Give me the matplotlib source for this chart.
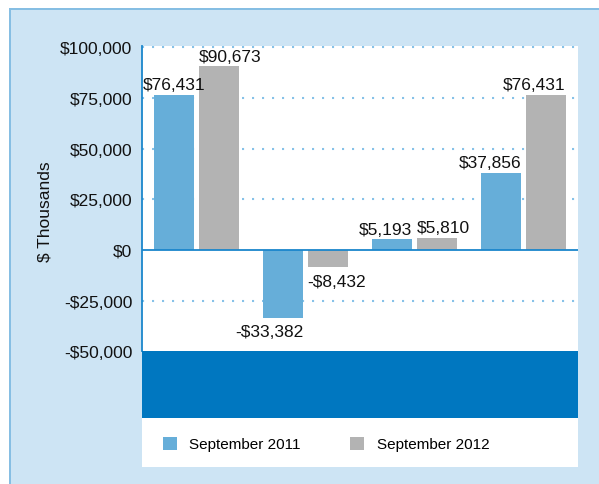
import numpy as np
import matplotlib
matplotlib.use("Agg")
import matplotlib.pyplot as plt
from matplotlib.patches import Rectangle
from matplotlib.ticker import FuncFormatter

plt.rcParams['font.family'] = ['Liberation Sans', 'DejaVu Sans']

series_names = ["September 2011", "September 2012"]
sep_2011 = [76431, -33382, 5193, 37856]
sep_2012 = [90673, -8432, 5810, 76431]
y_ticks = [-50000, -25000, 0, 25000, 50000, 75000, 100000]

# where each value label sits against its bar (the source nudges them apart)
ha_2011 = ["center", "right", "right", "right"]
ha_2012 = ["left", "left", "left", "right"]

BLUE = "#66aed9"
GRAY = "#b3b3b3"
DARK = "#0077c0"
FRAME = "#cde4f4"
EDGE = "#86bee3"
GRID = "#86c2e8"

W, H = 599, 485
fig = plt.figure(figsize=(W / 100, H / 100), dpi=100)
fig.patch.set_facecolor("white")


def px_rect(x0, y0, x1, y1, color):
    # rectangle in pixel coords measured from the top-left corner
    fig.patches.append(Rectangle((x0 / W, 1 - y1 / H), (x1 - x0) / W, (y1 - y0) / H,
                                 transform=fig.transFigure, color=color, zorder=-10, lw=0))


px_rect(9, 9, W, H, EDGE)
px_rect(11, 11, W, H, FRAME)
px_rect(142, 419, 578, 468, "white")

ax = fig.add_axes([142 / W, 1 - 419 / H, 436 / W, 372 / H])
ax.set_facecolor("white")

x = np.arange(len(sep_2011))
width = 0.367
gap = 0.037
b1 = ax.bar(x - (width + gap) / 2, sep_2011, width, color=BLUE, label=series_names[0], zorder=2)
b2 = ax.bar(x + (width + gap) / 2, sep_2012, width, color=GRAY, label=series_names[1], zorder=2)

ax.set_xlim(-0.5, len(x) - 0.5)
ax.set_ylim(-83000, 100700)
ax.axhspan(-83000, -50000, color=DARK, lw=0, zorder=3)

for t in y_ticks:
    if t not in (0, -50000):
        ax.axhline(t, color=GRID, lw=1.5, ls=(0, (1, 3.8)), zorder=1)
ax.axhline(0, color="#1a86cc", lw=1.3, zorder=4)

ax.set_yticks(y_ticks)
ax.yaxis.set_major_formatter(FuncFormatter(
    lambda v, p: ("-$" if v < 0 else "$") + f"{abs(int(v)):,}"))
ax.tick_params(axis='y', length=0, pad=7, labelsize=12.5, labelcolor="#111111")
ax.set_xticks([])
for s in ["top", "right", "bottom"]:
    ax.spines[s].set_visible(False)
ax.spines["left"].set_color("#1a86cc")
ax.spines["left"].set_linewidth(1.3)
ax.spines["left"].set_bounds(-50000, 100700)

ax.set_ylabel("$ Thousands", fontsize=12.5, color="#111111")
ax.yaxis.set_label_coords(-0.206, 0.556)


def money(v):
    return ("-$" if v < 0 else "$") + f"{abs(v):,}"


for bars, has in [(b1, ha_2011), (b2, ha_2012)]:
    for rect, ha in zip(bars, has):
        v = rect.get_height()
        xl = rect.get_x()
        xa = {"left": xl, "center": xl + rect.get_width() / 2,
              "right": xl + rect.get_width()}[ha]
        if v >= 0:
            ax.annotate(money(int(v)), (xa, v), xytext=(0, 2), textcoords="offset points",
                        ha=ha, va="bottom", fontsize=12.5, color="#111111", zorder=5)
        else:
            ax.annotate(money(int(v)), (xa, v), xytext=(0, -5), textcoords="offset points",
                        ha=ha, va="top", fontsize=12.5, color="#111111", zorder=5)

fig.legend(handles=[b1, b2], loc="center", bbox_to_anchor=(326 / W, 1 - 445 / H), ncol=2,
           frameon=False, fontsize=11, handlelength=0.95, handleheight=0.95,
           handletextpad=0.8, columnspacing=3.2, borderaxespad=0)

fig.savefig("out.png", dpi=100)
